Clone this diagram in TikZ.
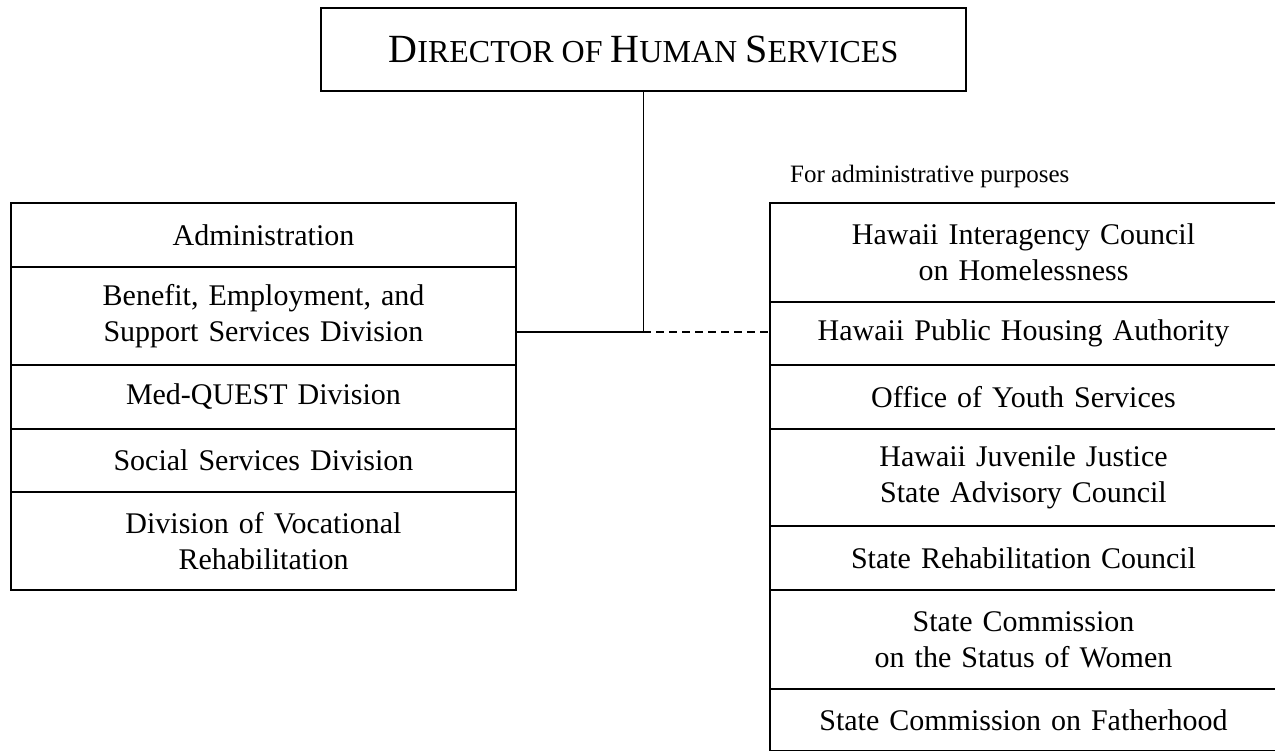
\documentclass[tikz,border=0pt]{standalone}
\usepackage{fontspec}
\setmainfont{Liberation Serif}
\newcommand\dhsbig[1]{{\fontsize{40}{48}\selectfont #1}}
\newcommand\dhssmall[1]{{\fontsize{32}{40}\selectfont #1}}
\begin{document}
\begin{tikzpicture}[x=1pt,y=-1pt,
  cell/.style={draw, line width=2pt, anchor=north west, inner sep=0pt, align=center, font=\fontsize{30}{36}\selectfont},
  lcell/.style={cell, minimum width=505pt, text width=505pt},
  rcell/.style={cell, minimum width=507pt, text width=507pt},
  link/.style={line width=1.8pt}]
\useasboundingbox (0,0) rectangle (1275,751);
\node[draw, line width=1.8pt, anchor=north west, inner sep=0pt, minimum width=645pt, minimum height=83pt, font=\fontsize{32}{40}\selectfont] (dir) at (320,7)
  {\dhsbig{D}\dhssmall{IRECTOR OF }\dhsbig{H}\dhssmall{UMAN }\dhsbig{S}\dhssmall{ERVICES}};
% left column
\node[lcell, minimum height=64pt] (adm) at (10,202) {Administration};
\node[lcell, minimum height=98pt] (bes) at (10,266) {Benefit, Employment, and\\Support Services Division};
\node[lcell, minimum height=64pt] (mq) at (10,364) {Med-QUEST Division};
\node[lcell, minimum height=63pt] (ssd) at (10,428) {Social Services Division};
\node[lcell, minimum height=98pt] (dvr) at (10,491) {Division of Vocational\\Rehabilitation};
% right column
\node[rcell, minimum height=99pt] (hic) at (769,202) {Hawaii Interagency Council\\on Homelessness};
\node[rcell, minimum height=63pt] (hph) at (769,301) {Hawaii Public Housing Authority};
\node[rcell, minimum height=64pt] (oys) at (769,364) {Office of Youth Services};
\node[rcell, minimum height=97pt] (hjj) at (769,428) {Hawaii Juvenile Justice\\State Advisory Council};
\node[rcell, minimum height=64pt] (src) at (769,525) {State Rehabilitation Council};
\node[rcell, minimum height=99pt] (scw) at (769,589) {State Commission\\on the Status of Women};
\node[rcell, minimum height=62pt] (scf) at (769,688) {State Commission on Fatherhood};
% label
\node[anchor=base west, inner sep=0pt, font=\fontsize{25}{30}\selectfont] (lbl) at (790,183) {For administrative purposes};
% connectors
\path (dir.south) ++(0,240) coordinate (j);
\draw[link] (dir.south) -- (j);
\draw[link] (bes.east |- j) -- (j);
\draw[link, dash pattern=on 8pt off 5pt] (j) -- (hph.west |- j);
\end{tikzpicture}
\end{document}
